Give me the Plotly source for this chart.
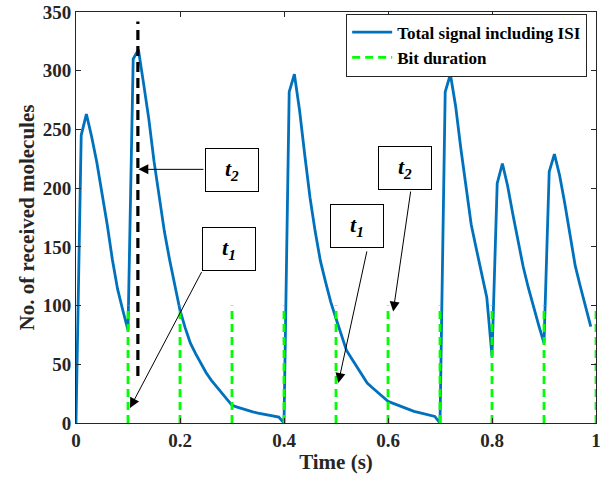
import plotly.graph_objects as go

# ---- data ----
time_s = [0.00, 0.01, 0.02, 0.03, 0.04, 0.05, 0.06, 0.07, 0.08, 0.09,
          0.10, 0.11, 0.12, 0.13, 0.14, 0.15, 0.16, 0.17, 0.18, 0.19,
          0.20, 0.21, 0.22, 0.23, 0.24, 0.25, 0.26, 0.27, 0.28, 0.29,
          0.30, 0.31, 0.32, 0.33, 0.34, 0.35, 0.36, 0.37, 0.38, 0.39,
          0.40, 0.41, 0.42, 0.43, 0.44, 0.45, 0.46, 0.47, 0.48, 0.49,
          0.50, 0.51, 0.52, 0.53, 0.54, 0.55, 0.56, 0.57, 0.58, 0.59,
          0.60, 0.61, 0.62, 0.63, 0.64, 0.65, 0.66, 0.67, 0.68, 0.69,
          0.70, 0.71, 0.72, 0.73, 0.74, 0.75, 0.76, 0.77, 0.78, 0.79,
          0.80, 0.81, 0.82, 0.83, 0.84, 0.85, 0.86, 0.87, 0.88, 0.89,
          0.90, 0.91, 0.92, 0.93, 0.94, 0.95, 0.96, 0.97, 0.98, 0.99]

molecules = [0, 245, 263, 244, 222, 196, 169, 139, 114, 96,
             79, 310, 318, 289, 259, 223, 191, 163, 139, 118,
             96, 81, 68, 59, 51, 43, 36.5, 31, 26, 20,
             15, 13.5, 12, 10.7, 9.5, 8.5, 7.5, 6.6, 5.8, 5.0,
             0, 282, 297, 266, 228, 192, 163, 138, 120, 103,
             89, 75, 62, 55, 48, 41, 34, 30, 26, 22,
             18.4, 16.7, 15, 13.2, 11.5, 9.9, 8.8, 7.7, 6.6, 5.6,
             0, 282, 297, 270, 234, 200, 169, 148, 127, 107,
             57, 204, 221, 202, 178, 156, 133, 115, 98, 83,
             68, 214, 229, 211, 187, 159, 134, 116, 99, 82]

bit_edges = [0.1, 0.2, 0.3, 0.4, 0.5, 0.6, 0.7, 0.8, 0.9, 1.0]
bit_marker_height = 100

marker_time = 0.119
marker_span = [40, 342]

series_names = ["Total signal including ISI", "Bit duration"]
x_title = "Time (s)"
y_title = "No. of received molecules"

# annotations: (label, subscript, box centre x, box centre y, arrow tail x, tail y, head x, head y)
notes = [
    ("t", "2", 0.300, 215.5, 0.248, 216.0, 0.1198, 216.0),
    ("t", "1", 0.295, 148.5, 0.243, 129.8, 0.1038, 12.8),
    ("t", "1", 0.540, 167.4, 0.560, 147.4, 0.5044, 34.0),
    ("t", "2", 0.632, 217.5, 0.644, 198.4, 0.610, 94.9),
]

FONT = "Liberation Serif"
AX = "#262626"

fig = go.Figure()

fig.add_trace(go.Scatter(
    x=time_s, y=molecules, mode="lines", name=series_names[0],
    line=dict(color="#0072BD", width=2.8),
))

gx, gy = [], []
for e in bit_edges:
    gx += [e, e, None]
    gy += [0, bit_marker_height, None]
fig.add_trace(go.Scatter(
    x=gx, y=gy, mode="lines", name=series_names[1],
    line=dict(color="#00FF00", width=2.8, dash="8px,5px"),
))

fig.add_trace(go.Scatter(
    x=[marker_time, marker_time], y=marker_span, mode="lines",
    showlegend=False, line=dict(color="black", width=3.2, dash="10px,6px"),
))

annos = []
for lab, sub, bx, by, tx, ty, hx, hy in notes:
    annos.append(dict(
        x=hx, y=hy, ax=tx, ay=ty, xref="x", yref="y", axref="x", ayref="y",
        text="", showarrow=True, arrowhead=2, arrowsize=2.0, arrowwidth=1,
        arrowcolor="black", standoff=0, startstandoff=0,
    ))
    annos.append(dict(
        x=bx, y=by, xref="x", yref="y", showarrow=False,
        text="<b><i>%s</i><sub><i>%s</i></sub></b>" % (lab, sub),
        font=dict(family=FONT, size=22, color="black"),
        width=52, height=42, borderpad=0, bordercolor="black",
        borderwidth=1, bgcolor="white", xanchor="center", yanchor="middle",
        align="center", valign="middle",
    ))

fig.update_layout(
    width=611, height=483,
    margin=dict(l=76, r=15, t=12, b=60, autoexpand=False),
    paper_bgcolor="white", plot_bgcolor="white",
    font=dict(family=FONT, color=AX),
    annotations=annos,
    showlegend=True,
    legend=dict(
        x=0.983, y=0.996, xanchor="right", yanchor="top",
        bgcolor="white", bordercolor=AX, borderwidth=1,
        font=dict(family=FONT, size=17, color="black", weight="bold"),
        tracegroupgap=0, itemwidth=40,
    ),
)

fig.update_xaxes(
    range=[0, 1], dtick=0.2, tick0=0, showgrid=False, zeroline=False,
    showline=True, linecolor=AX, linewidth=1, mirror="ticks",
    ticks="inside", ticklen=5, tickcolor=AX, automargin=False,
    tickfont=dict(family=FONT, size=19, color=AX, weight="bold"),
    title=dict(text=x_title, standoff=4,
               font=dict(family=FONT, size=21, color=AX, weight="bold")),
)
fig.update_yaxes(
    range=[0, 350], dtick=50, tick0=0, showgrid=False, zeroline=False,
    showline=True, linecolor=AX, linewidth=1, mirror="ticks",
    ticks="inside", ticklen=5, tickcolor=AX, automargin=False,
    tickfont=dict(family=FONT, size=19, color=AX, weight="bold"),
    title=dict(text=y_title, standoff=2,
               font=dict(family=FONT, size=21, color=AX, weight="bold")),
)

fig.write_html(
    "out.html",
    config={"displayModeBar": False},
    post_script="document.body.style.margin='0px';document.body.style.overflow='hidden';",
)
